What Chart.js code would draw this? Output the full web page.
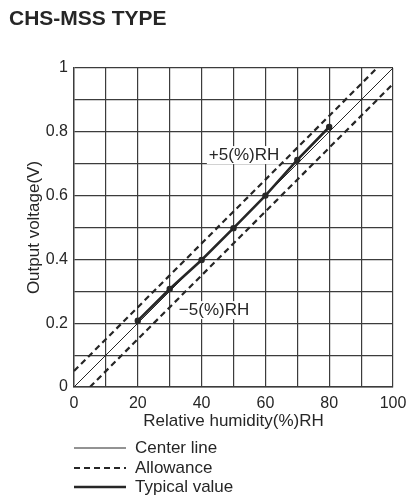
<!DOCTYPE html>
<html>
<head>
<meta charset="utf-8">
<script src="https://cdn.jsdelivr.net/npm/chart.js@4.4.1/dist/chart.umd.min.js"></script>
<style>
  html, body { margin: 0; padding: 0; background: #fff; }
  canvas { display: block; }
</style>
</head>
<body>
<canvas id="chart" width="407" height="496"></canvas>
<script>
// values
const centerX = [0, 100];
const centerY = [0, 1];
const plusX = [0, 95];
const plusY = [0.05, 1];
const minusX = [5, 100];
const minusY = [0, 0.95];
const typicalX = [20, 30, 40, 50, 60, 70, 80];
const typicalY = [0.208, 0.307, 0.398, 0.498, 0.6, 0.712, 0.815];
const xTickLabels = ['0', '', '20', '', '40', '', '60', '', '80', '', '100'];
const yTickLabels = ['0', '', '0.2', '', '0.4', '', '0.6', '', '0.8', '', '1'];

const ink = '#262626';
const gridInk = '#3c3c3c';
const FONT = '"Liberation Sans", Arial, sans-serif';

const pts = (xs, ys) => xs.map((x, i) => ({ x: x, y: ys[i] }));

// title, +/-5 labels and the legend underneath
const extras = {
    id: 'extras',
    beforeDatasetsDraw(chart) {
        const { ctx, scales } = chart;
        const notes = [
            { text: '+5(%)RH', x: 53.3, y: 0.727 },
            { text: '\u22125(%)RH', x: 43.9, y: 0.241 }
        ];
        ctx.save();
        ctx.font = '17px ' + FONT;
        ctx.textAlign = 'center';
        ctx.textBaseline = 'middle';
        notes.forEach(n => {
            const px = scales.x.getPixelForValue(n.x);
            const py = scales.y.getPixelForValue(n.y);
            const w = ctx.measureText(n.text).width;
            ctx.fillStyle = '#fff';
            ctx.fillRect(px - w / 2 - 2, py - 9, w + 4, 18);
            ctx.fillStyle = ink;
            ctx.fillText(n.text, px, py);
        });
        ctx.restore();
    },
    afterDraw(chart) {
        const { ctx } = chart;
        ctx.save();
        ctx.fillStyle = ink;
        ctx.font = 'bold 21px ' + FONT;
        ctx.textBaseline = 'middle';
        ctx.fillText('CHS-MSS TYPE', 9, 19);

        ctx.font = '17px ' + FONT;
        const rows = [448, 468, 487];
        chart.data.datasets.slice(0, 3).forEach((ds, i) => {
            const y = rows[i];
            ctx.strokeStyle = ds.borderColor;
            ctx.lineWidth = ds.borderWidth;
            ctx.setLineDash(ds.borderDash || []);
            ctx.beginPath();
            ctx.moveTo(74, y);
            ctx.lineTo(126, y);
            ctx.stroke();
            ctx.setLineDash([]);
            ctx.fillText(ds.label, 135, y);
        });
        ctx.restore();
    }
};

new Chart(document.getElementById('chart'), {
    type: 'scatter',
    data: {
        datasets: [
            {
                label: 'Center line',
                data: pts(centerX, centerY),
                showLine: true,
                borderColor: ink,
                borderWidth: 1,
                pointRadius: 0,
                order: 3
            },
            {
                label: 'Allowance',
                data: pts(plusX, plusY),
                showLine: true,
                borderColor: ink,
                borderWidth: 2.2,
                borderDash: [6, 4],
                pointRadius: 0,
                order: 2
            },
            {
                label: 'Typical value',
                data: pts(typicalX, typicalY),
                showLine: true,
                borderColor: ink,
                backgroundColor: ink,
                borderWidth: 2.6,
                pointRadius: 3.2,
                pointBorderWidth: 0,
                order: 1
            },
            {
                label: 'Allowance -5',
                data: pts(minusX, minusY),
                showLine: true,
                borderColor: ink,
                borderWidth: 2.2,
                borderDash: [6, 4],
                pointRadius: 0,
                order: 2
            }
        ]
    },
    options: {
        responsive: false,
        animation: false,
        devicePixelRatio: 1,
        layout: { padding: { left: 0, top: 68, right: 14, bottom: 0 } },
        plugins: {
            legend: { display: false },
            tooltip: { enabled: false }
        },
        scales: {
            x: {
                type: 'linear',
                min: 0,
                max: 100,
                afterFit: s => {
                    s.height = 109;
                    s.paddingLeft = 0;
                    s.paddingRight = 0;
                },
                ticks: {
                    stepSize: 10,
                    autoSkip: false,
                    maxRotation: 0,
                    padding: 7,
                    color: ink,
                    font: { family: FONT, size: 16 },
                    callback: (v, i) => xTickLabels[i]
                },
                grid: { color: gridInk, lineWidth: 1.2, drawTicks: false },
                border: { color: gridInk, width: 1.4 },
                title: {
                    display: true,
                    text: 'Relative humidity(%)RH',
                    color: ink,
                    font: { family: FONT, size: 17 },
                    padding: { top: 0, bottom: 64 }
                }
            },
            y: {
                type: 'linear',
                min: 0,
                max: 1,
                afterFit: s => {
                    s.width = 74;
                    s.paddingTop = 0;
                    s.paddingBottom = 0;
                },
                ticks: {
                    stepSize: 0.1,
                    autoSkip: false,
                    padding: 6,
                    color: ink,
                    font: { family: FONT, size: 16 },
                    callback: (v, i) => yTickLabels[i]
                },
                grid: { color: gridInk, lineWidth: 1.2, drawTicks: false },
                border: { color: gridInk, width: 1.4 },
                title: {
                    display: true,
                    text: 'Output voltage(V)',
                    color: ink,
                    font: { family: FONT, size: 17 },
                    padding: { top: 24, bottom: 0 }
                }
            }
        }
    },
    plugins: [extras]
});
</script>
</body>
</html>
